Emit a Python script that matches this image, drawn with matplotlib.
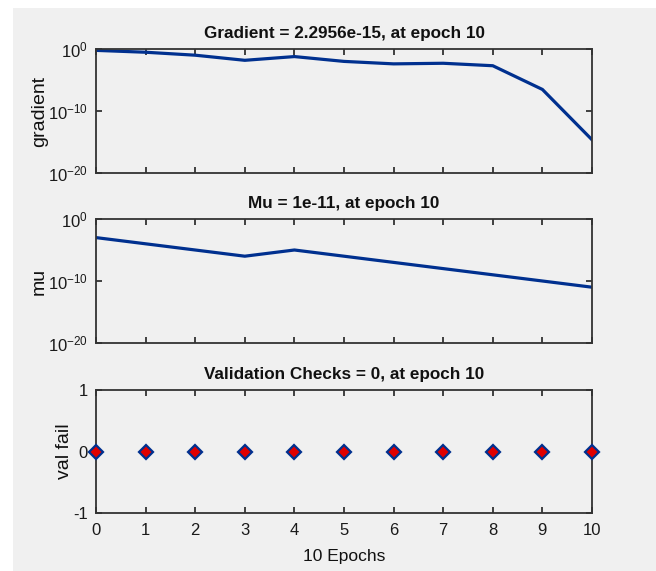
import matplotlib
matplotlib.use("Agg")
import matplotlib.pyplot as plt
from matplotlib.patches import Rectangle
import numpy as np

plt.rcParams['font.family'] = ['Liberation Sans', 'DejaVu Sans']
plt.rcParams['mathtext.fontset'] = 'custom'
plt.rcParams['mathtext.rm'] = 'Liberation Sans'
plt.rcParams['mathtext.it'] = 'Liberation Sans:italic'
plt.rcParams['mathtext.bf'] = 'Liberation Sans:bold'

epochs = [0, 1, 2, 3, 4, 5, 6, 7, 8, 9, 10]
gradient = [0.6, 0.3, 0.1, 0.015, 0.06, 0.01, 0.004, 0.005, 0.002, 3e-7, 2.2956e-15]
mu = [1e-3, 1e-4, 1e-5, 1e-6, 1e-5, 1e-6, 1e-7, 1e-8, 1e-9, 1e-10, 1e-11]
val_fail = [0, 0, 0, 0, 0, 0, 0, 0, 0, 0, 0]

titles = ["Gradient = 2.2956e-15, at epoch 10",
          "Mu = 1e-11, at epoch 10",
          "Validation Checks = 0, at epoch 10"]
ylabels = ["gradient", "mu", "val fail"]
xlabel = "10 Epochs"
log_ticks = [1e-20, 1e-10, 1e0]
log_ticklabels = [r"$10^{-20}$", r"$10^{-10}$", r"$10^{0}$"]
lin_ticks = [-1, 0, 1]

W, H = 656, 571
fig = plt.figure(figsize=(W / 100, H / 100), dpi=100)
fig.patch.set_facecolor('white')
bg = Rectangle((13 / W, 0), 1 - 13 / W, 1 - 8 / H, transform=fig.transFigure,
               facecolor='#f0f0f0', edgecolor='none', zorder=-10)
fig.add_artist(bg)

left = 96 / W
width = (592 - 96) / W
tops = [49, 219, 390]
bottoms = [173, 343, 513]
line_color = '#00308f'

axes = []
for i in range(3):
    ax = fig.add_axes([left, 1 - bottoms[i] / H, width, (bottoms[i] - tops[i]) / H])
    ax.set_facecolor('#f0f0f0')
    axes.append(ax)

ax1, ax2, ax3 = axes
ax1.semilogy(epochs, gradient, color=line_color, lw=2.3)
ax2.semilogy(epochs, mu, color=line_color, lw=2.3)
ax3.plot(epochs, val_fail, linestyle='none', marker='D', markersize=7,
         markerfacecolor='#e00000', markeredgecolor='#00308f', markeredgewidth=1.6,
         clip_on=False, zorder=5)

for ax in (ax1, ax2):
    ax.set_ylim(1e-20, 1e0)
    ax.set_yticks(log_ticks)
    ax.set_yticklabels(log_ticklabels)
    ax.yaxis.set_minor_locator(matplotlib.ticker.NullLocator())
ax3.set_ylim(-1, 1)
ax3.set_yticks(lin_ticks)
ax3.set_yticklabels([str(t) for t in lin_ticks])

for i, ax in enumerate(axes):
    ax.set_xlim(0, 10)
    ax.set_xticks(epochs)
    if i < 2:
        ax.set_xticklabels([])
    ax.tick_params(direction='in', length=4, width=1.2, top=True, right=True,
                   labelsize=12, colors='#222222', labelcolor='#1a1a1a')
    ax.tick_params(axis='x', pad=7)
    ax.tick_params(axis='y', pad=6)
    for s in ax.spines.values():
        s.set_linewidth(1.3)
        s.set_color('#333333')
    ax.set_title(titles[i], fontsize=12.3, fontweight='bold', pad=8, color='#111111')
    ax.set_ylabel(ylabels[i], fontsize=14, color='#111111', labelpad=0)

ax3.set_xlabel(xlabel, fontsize=12.5, color='#111111', labelpad=8)

fig.savefig('out.png', dpi=100)
